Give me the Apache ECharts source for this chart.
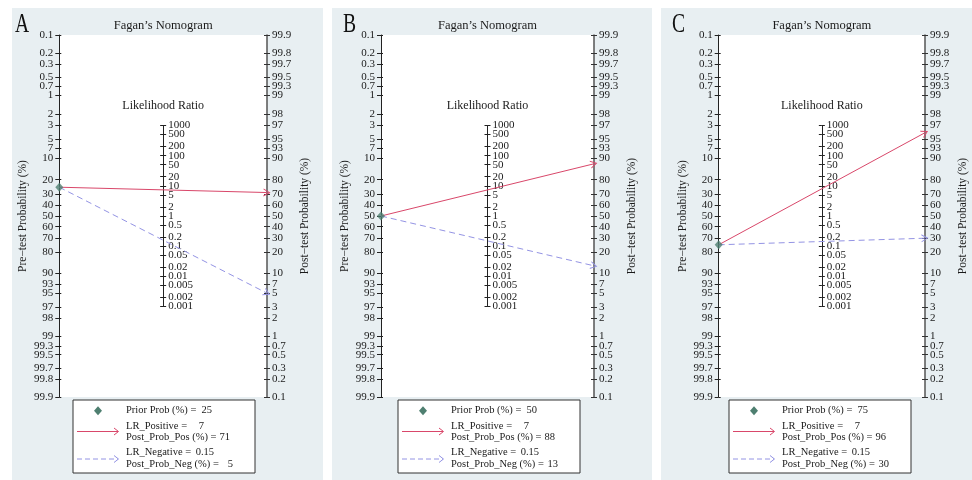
<!DOCTYPE html>
<html>
<head>
<meta charset="utf-8">
<script src="https://cdn.jsdelivr.net/npm/echarts@6/dist/echarts.min.js"></script>
<style>
  html, body { margin: 0; padding: 0; background: #fff; }
  #chart { width: 972px; height: 480px; }
</style>
</head>
<body>
<div id="chart"></div>
<script>
// ---- data ----
const panelNames = ['A', 'B', 'C'];
const priorProb = [25, 50, 75];
const lrPositive = [7, 7, 7];
const postProbPos = [71, 88, 96];
const lrNegative = [0.15, 0.15, 0.15];
const postProbNeg = [5, 13, 30];
const probTicks = [0.1, 0.2, 0.3, 0.5, 0.7, 1, 2, 3, 5, 7, 10, 20, 30, 40, 50, 60, 70, 80, 90, 93, 95, 97, 98, 99, 99.3, 99.5, 99.7, 99.8, 99.9];
const lrTicks = [1000, 500, 200, 100, 50, 20, 10, 5, 2, 1, 0.5, 0.2, 0.1, 0.05, 0.02, 0.01, 0.005, 0.002, 0.001];

// ---- layout ----
const panelX = [12, 332, 661];
const panelW = [311, 320, 311];
const axisL = [59.3, 381, 718.7];
const axisR = [267, 594, 925];
const legendX = [73, 398, 729];
const letterX = [15, 343, 672];
const TOP = 35, HEIGHT = 362;
const FONT = 'Liberation Serif';
const RED = '#d9476a';
const BLUE = '#9494e4';
const GREEN = '#4e7f70';

const logit = p => Math.log(p / (100 - p));
const LIM = logit(99.9);
const LRLIM = Math.log(1000) / 2;

const leftVals = probTicks.map(p => logit(p));
const rightVals = probTicks.map(p => -logit(p));
const midVals = lrTicks.map(l => -Math.log(l) / 2);
const midEven = midVals.filter((v, k) => k % 2 === 0);
const midOdd = midVals.filter((v, k) => k % 2 === 1);

function nearestLabel(vals, labels) {
  return function (v) {
    let best = 0;
    for (let i = 1; i < vals.length; i++) {
      if (Math.abs(vals[i] - v) < Math.abs(vals[best] - v)) best = i;
    }
    return String(labels[best]);
  };
}

const labelStyle = { fontFamily: FONT, fontSize: 11, color: '#1a1a1a', hideOverlap: false, showMinLabel: true, showMaxLabel: true };
const arrowPath = 'path://M0,10 L5,0 L10,10 L8.6,10 L5,2.8 L1.4,10 Z';

const grid = [], xAxis = [], yAxis = [], series = [], graphic = [];

panelNames.forEach((name, i) => {
  const plotW = axisR[i] - axisL[i];
  const midX = (axisL[i] + axisR[i]) / 2;
  const pxPerUnit = HEIGHT / (2 * LIM);
  const midTop = TOP + (LIM - LRLIM) * pxPerUnit;
  const midH = 2 * LRLIM * pxPerUnit;

  grid.push({ left: axisL[i], top: TOP, width: plotW, height: HEIGHT, show: true, backgroundColor: '#fff', borderWidth: 0 });
  grid.push({ left: midX - 10, top: midTop, width: 10, height: midH, show: false });
  xAxis.push({ type: 'value', gridIndex: 2 * i, min: 0, max: 1, show: false });
  xAxis.push({ type: 'value', gridIndex: 2 * i + 1, min: 0, max: 1, show: false });

  const base = (g, pos, min, max) => ({
    type: 'value', gridIndex: g, position: pos, inverse: true, min: min, max: max,
    splitLine: { show: false }
  });

  // left: pre-test probability
  yAxis.push(Object.assign(base(2 * i, 'left', -LIM, LIM), {
    axisLine: { show: true, onZero: false, lineStyle: { color: '#222', width: 1 } },
    axisTick: { show: true, length: 4, customValues: leftVals, lineStyle: { color: '#222' } },
    axisLabel: { customValues: leftVals, formatter: nearestLabel(leftVals, probTicks), margin: 6, ...labelStyle },
    name: 'Pre\u2212test Probability (%)', nameLocation: 'middle', nameRotate: 90, nameGap: 30,
    nameTextStyle: { fontFamily: FONT, fontSize: 11.5, color: '#1a1a1a' }
  }));
  yAxis.push(Object.assign(base(2 * i, 'left', -LIM, LIM), {
    axisLine: { show: false, onZero: false },
    axisTick: { show: true, inside: true, length: 2, customValues: leftVals, lineStyle: { color: '#222' } },
    axisLabel: { show: false }
  }));
  // right: post-test probability
  yAxis.push(Object.assign(base(2 * i, 'right', -LIM, LIM), {
    axisLine: { show: true, onZero: false, lineStyle: { color: '#555', width: 1.5 } },
    axisTick: { show: true, length: 3, customValues: rightVals, lineStyle: { color: '#333' } },
    axisLabel: { customValues: rightVals, formatter: nearestLabel(rightVals, probTicks), margin: 5, ...labelStyle },
    name: 'Post\u2212test Probability (%)', nameLocation: 'middle', nameRotate: 90, nameGap: 32,
    nameTextStyle: { fontFamily: FONT, fontSize: 11.5, color: '#1a1a1a' }
  }));
  yAxis.push(Object.assign(base(2 * i, 'right', -LIM, LIM), {
    axisLine: { show: false, onZero: false },
    axisTick: { show: true, inside: true, length: 3, customValues: rightVals, lineStyle: { color: '#333' } },
    axisLabel: { show: false }
  }));
  // middle: likelihood ratio (labels split over two axes so none get dropped)
  yAxis.push(Object.assign(base(2 * i + 1, 'right', -LRLIM, LRLIM), {
    axisLine: { show: true, onZero: false, lineStyle: { color: '#222', width: 1 } },
    axisTick: { show: true, length: 3, customValues: midVals, lineStyle: { color: '#222' } },
    axisLabel: { customValues: midEven, formatter: nearestLabel(midVals, lrTicks), margin: 5, ...labelStyle }
  }));
  yAxis.push(Object.assign(base(2 * i + 1, 'right', -LRLIM, LRLIM), {
    axisLine: { show: false, onZero: false },
    axisTick: { show: true, inside: true, length: 3, customValues: midVals, lineStyle: { color: '#222' } },
    axisLabel: { customValues: midOdd, formatter: nearestLabel(midVals, lrTicks), margin: 5, ...labelStyle }
  }));

  const pre = logit(priorProb[i]);
  series.push({
    type: 'scatter',
    xAxisIndex: 2 * i,
    yAxisIndex: 6 * i,
    data: [[0, pre]],
    symbol: 'diamond',
    symbolSize: [8, 9],
    itemStyle: { color: GREEN },
    z: 5,
    silent: true,
    markLine: {
      silent: true,
      symbol: ['none', 'none'],
      label: { show: false },
      data: [
        [
          { coord: [0, pre], lineStyle: { color: RED, width: 1, type: 'solid' } },
          { coord: [1, -logit(postProbPos[i])], symbol: arrowPath, symbolSize: [8, 7] }
        ],
        [
          { coord: [0, pre], lineStyle: { color: BLUE, width: 1, type: [6, 4] } },
          { coord: [1, -logit(postProbNeg[i])], symbol: arrowPath, symbolSize: [8, 7] }
        ]
      ]
    }
  });

  // panel background, letter, titles
  graphic.push({ type: 'rect', z: -10, shape: { x: panelX[i], y: 8, width: panelW[i], height: 472 }, style: { fill: '#e8eff2' } });
  graphic.push({ type: 'text', x: letterX[i], y: 25, scaleX: 0.7, style: { text: name, font: '28px ' + FONT, fill: '#111', textVerticalAlign: 'middle' } });
  graphic.push({ type: 'text', x: midX, y: 26, style: { text: 'Fagan\u2019s Nomogram', font: '12.5px ' + FONT, fill: '#1a1a1a', textAlign: 'center', textVerticalAlign: 'middle' } });
  graphic.push({ type: 'text', x: midX, y: 106, style: { text: 'Likelihood Ratio', font: '12px ' + FONT, fill: '#1a1a1a', textAlign: 'center', textVerticalAlign: 'middle' } });

  // legend box
  const bx = legendX[i], by = 400;
  const txt = (x, y, s, align) => ({ type: 'text', x: x, y: y, style: { text: s, font: '10.5px ' + FONT, fill: '#1a1a1a', textAlign: align || 'left', textVerticalAlign: 'middle' } });
  graphic.push({ type: 'rect', shape: { x: bx, y: by, width: 182, height: 73 }, style: { fill: '#fff', stroke: '#333', lineWidth: 1 } });
  const dx = bx + 25, dy = by + 10.7;
  graphic.push({ type: 'polygon', shape: { points: [[dx, dy - 4.5], [dx + 4, dy], [dx, dy + 4.5], [dx - 4, dy]] }, style: { fill: GREEN } });
  graphic.push(txt(bx + 53, by + 10.7, 'Prior Prob (%) ='));
  graphic.push(txt(bx + 139, by + 10.7, String(priorProb[i]), 'right'));
  graphic.push({ type: 'line', shape: { x1: bx + 4, y1: by + 31.5, x2: bx + 45, y2: by + 31.5 }, style: { stroke: RED, lineWidth: 1 } });
  graphic.push({ type: 'polyline', shape: { points: [[bx + 41, by + 28], [bx + 45.5, by + 31.5], [bx + 41, by + 35]] }, style: { stroke: RED, lineWidth: 1, fill: null } });
  graphic.push(txt(bx + 53, by + 26.7, 'LR_Positive ='));
  graphic.push(txt(bx + 131, by + 26.7, String(lrPositive[i]), 'right'));
  graphic.push(txt(bx + 53, by + 37.5, 'Post_Prob_Pos (%) ='));
  graphic.push(txt(bx + 157, by + 37.5, String(postProbPos[i]), 'right'));
  graphic.push({ type: 'line', shape: { x1: bx + 4, y1: by + 59, x2: bx + 45, y2: by + 59 }, style: { stroke: BLUE, lineWidth: 1, lineDash: [5, 3] } });
  graphic.push({ type: 'polyline', shape: { points: [[bx + 41, by + 55.5], [bx + 45.5, by + 59], [bx + 41, by + 62.5]] }, style: { stroke: BLUE, lineWidth: 1, fill: null } });
  graphic.push(txt(bx + 53, by + 52.7, 'LR_Negative ='));
  graphic.push(txt(bx + 141, by + 52.7, String(lrNegative[i]), 'right'));
  graphic.push(txt(bx + 53, by + 64, 'Post_Prob_Neg (%) ='));
  graphic.push(txt(bx + 160, by + 64, String(postProbNeg[i]), 'right'));
});

const myChart = echarts.init(document.getElementById('chart'), null, { renderer: 'canvas' });
myChart.setOption({
  animation: false,
  backgroundColor: '#fff',
  grid: grid,
  xAxis: xAxis,
  yAxis: yAxis,
  series: series,
  graphic: graphic
});
</script>
</body>
</html>
